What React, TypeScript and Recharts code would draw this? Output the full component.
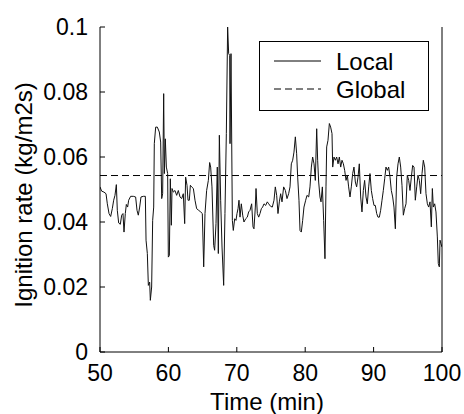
import { LineChart, Line, XAxis, YAxis, ReferenceLine, Legend } from 'recharts';

const FONT = '"Liberation Sans", Arial, sans-serif';

const TIME = [
  50.0, 50.24, 50.58, 50.88, 51.07, 51.32, 51.56, 51.8, 52.0, 52.19, 52.39, 52.53, 52.73, 52.97, 53.17, 53.36,
  53.51, 53.7, 53.85, 54.04, 54.19, 54.48, 54.87, 55.21, 55.41, 55.6, 55.8, 55.99, 56.34, 56.63, 56.73, 56.92,
  57.07, 57.26, 57.36, 57.55, 57.7, 57.85, 57.94, 58.14, 58.38, 58.67, 58.87, 59.02, 59.16, 59.31, 59.41, 59.55,
  59.7, 59.89, 59.99, 60.14, 60.28, 60.43, 60.53, 60.72, 60.96, 61.21, 61.45, 61.7, 61.94, 62.18, 62.38, 62.52,
  62.72, 62.87, 63.06, 63.21, 63.4, 63.65, 63.89, 64.13, 64.42, 64.72, 64.96, 65.16, 65.35, 65.59, 65.84, 66.03,
  66.18, 66.37, 66.62, 66.76, 66.96, 67.15, 67.3, 67.45, 67.64, 67.84, 68.08, 68.27, 68.47, 68.66, 68.81, 68.96,
  69.01, 69.15, 69.35, 69.49, 69.69, 69.88, 70.03, 70.18, 70.32, 70.47, 70.66, 70.86, 71.05, 71.3, 71.54, 71.73,
  71.93, 72.17, 72.37, 72.51, 72.71, 72.81, 73.0, 73.2, 73.39, 73.59, 73.78, 73.98, 74.22, 74.46, 74.66, 74.95,
  75.19, 75.44, 75.63, 75.83, 76.02, 76.22, 76.41, 76.61, 76.85, 77.1, 77.34, 77.58, 77.78, 77.97, 78.17, 78.36,
  78.56, 78.75, 78.9, 79.09, 79.24, 79.43, 79.63, 79.82, 80.07, 80.26, 80.51, 80.7, 80.9, 81.09, 81.29, 81.48,
  81.68, 81.82, 81.97, 82.16, 82.31, 82.51, 82.7, 82.89, 83.04, 83.14, 83.33, 83.53, 83.72, 83.92, 84.02, 84.21,
  84.41, 84.6, 84.8, 84.99, 85.19, 85.38, 85.58, 85.77, 85.97, 86.16, 86.35, 86.55, 86.74, 86.94, 87.13, 87.33,
  87.52, 87.72, 87.91, 88.11, 88.3, 88.5, 88.69, 88.89, 89.08, 89.28, 89.47, 89.67, 89.86, 90.06, 90.25, 90.45,
  90.64, 90.84, 91.03, 91.23, 91.42, 91.62, 91.81, 92.01, 92.2, 92.4, 92.59, 92.79, 92.98, 93.18, 93.37, 93.57,
  93.76, 93.96, 94.15, 94.35, 94.54, 94.74, 94.93, 95.13, 95.32, 95.52, 95.71, 95.91, 96.1, 96.3, 96.49, 96.69,
  96.88, 97.08, 97.27, 97.47, 97.66, 97.86, 98.05, 98.25, 98.44, 98.59, 98.73, 98.93, 99.12, 99.32, 99.46, 99.61,
  99.71, 99.85, 100.0,
];

const LOCAL_RATE = [
  0.0508, 0.0495, 0.0492, 0.0487, 0.0456, 0.0426, 0.0417, 0.0441, 0.0467, 0.0482, 0.0515, 0.0436, 0.0397, 0.0393, 0.0421, 0.0426,
  0.0369, 0.0426, 0.0454, 0.0446, 0.0467, 0.0479, 0.0479, 0.0477, 0.0436, 0.0421, 0.0446, 0.0477, 0.0479, 0.0479, 0.0344, 0.0303,
  0.0205, 0.0215, 0.0159, 0.02, 0.0405, 0.0446, 0.0641, 0.0692, 0.0692, 0.0677, 0.0646, 0.0472, 0.0487, 0.0795, 0.0549, 0.0656,
  0.0569, 0.0549, 0.0292, 0.0297, 0.0533, 0.039, 0.0503, 0.0492, 0.0497, 0.0482, 0.0497, 0.0477, 0.0472, 0.0487, 0.0395, 0.0538,
  0.0513, 0.0467, 0.0467, 0.0513, 0.0508, 0.0503, 0.0467, 0.0441, 0.0436, 0.0431, 0.0426, 0.0262, 0.0426, 0.0497, 0.0528, 0.0583,
  0.0569, 0.0508, 0.0328, 0.0313, 0.0395, 0.0569, 0.0303, 0.0667, 0.0467, 0.0323, 0.0205, 0.0426, 0.0672, 0.1, 0.0918, 0.0913,
  0.0641, 0.0918, 0.0405, 0.0374, 0.041, 0.0405, 0.0426, 0.0441, 0.0467, 0.0415, 0.0456, 0.0421, 0.04, 0.041, 0.0415, 0.0431,
  0.0436, 0.0456, 0.0385, 0.0379, 0.0446, 0.0503, 0.0426, 0.0415, 0.0426, 0.0441, 0.0446, 0.0456, 0.0451, 0.0462, 0.0456, 0.0448,
  0.0446, 0.0467, 0.0508, 0.0482, 0.0426, 0.0462, 0.0487, 0.0462, 0.0508, 0.0497, 0.0472, 0.0487, 0.0508, 0.0579, 0.059, 0.0615,
  0.0662, 0.061, 0.0538, 0.0467, 0.0374, 0.0369, 0.0405, 0.0446, 0.0467, 0.0482, 0.0477, 0.0508, 0.0569, 0.06, 0.0579, 0.0528,
  0.0687, 0.059, 0.0523, 0.0477, 0.0462, 0.0508, 0.0405, 0.0287, 0.0508, 0.0631, 0.0651, 0.0703, 0.0692, 0.0672, 0.0569, 0.06,
  0.059, 0.06, 0.0579, 0.06, 0.0569, 0.059, 0.0579, 0.0559, 0.0528, 0.0544, 0.0508, 0.0477, 0.0508, 0.0549, 0.0569, 0.0523,
  0.0508, 0.0538, 0.0579, 0.0477, 0.0431, 0.0497, 0.0528, 0.0477, 0.0456, 0.0508, 0.0549, 0.0497, 0.0472, 0.0451, 0.0451, 0.0426,
  0.0415, 0.0415, 0.0436, 0.0467, 0.0497, 0.0533, 0.0569, 0.0559, 0.0569, 0.0538, 0.0497, 0.0477, 0.0446, 0.0379, 0.0538, 0.0579,
  0.06, 0.0569, 0.0513, 0.0421, 0.0441, 0.0456, 0.0544, 0.0528, 0.0497, 0.0538, 0.0574, 0.0569, 0.0467, 0.0508, 0.0544, 0.0528,
  0.0487, 0.0549, 0.059, 0.0569, 0.0487, 0.0456, 0.0446, 0.0462, 0.0385, 0.0503, 0.0446, 0.0456, 0.0431, 0.0354, 0.0272, 0.0262,
  0.0344, 0.0333, 0.0323,
];

const GLOBAL_RATE = 0.0543;

const X_TICKS = [50, 60, 70, 80, 90, 100];
const Y_TICKS = [0, 0.02, 0.04, 0.06, 0.08, 0.1];

const LEGEND_ITEMS = [
  { name: 'Local', dash: undefined },
  { name: 'Global', dash: '7 4' },
];

const TICK_LEN = 5;
const TICK_FONT = 23;
const TITLE_FONT = 24;

// matlab style ticks: pointing into the plot box
const LeftTick = (props: any) => {
  const { x, y, payload } = props;
  return (
    <g>
      <line x1={x + 12} x2={x + 12 + TICK_LEN} y1={y} y2={y} stroke="#000" />
      <text x={x} y={y} dy="0.36em" textAnchor="end" fontSize={TICK_FONT} fontFamily={FONT} fill="#000">
        {String(payload.value)}
      </text>
    </g>
  );
};

const RightTick = (props: any) => {
  const { x, y } = props;
  return <line x1={x - TICK_LEN} x2={x} y1={y} y2={y} stroke="#000" />;
};

const BottomTick = (props: any) => {
  const { x, y, payload } = props;
  return (
    <g>
      <line x1={x} x2={x} y1={y - 13} y2={y - 13 - TICK_LEN} stroke="#000" />
      <text x={x} y={y} dy="0.71em" textAnchor="middle" fontSize={TICK_FONT} fontFamily={FONT} fill="#000">
        {String(payload.value)}
      </text>
    </g>
  );
};

const TopTick = (props: any) => {
  const { x, y } = props;
  return <line x1={x} x2={x} y1={y} y2={y + TICK_LEN} stroke="#000" />;
};

const LegendBox = () => (
  <svg width={170} height={70} style={{ display: 'block' }}>
    <rect x={0.5} y={0.5} width={169} height={69} fill="#fff" stroke="#000" />
    {LEGEND_ITEMS.map((item, i) => (
      <g key={item.name}>
        <line x1={15} x2={62} y1={20 + i * 28} y2={20 + i * 28} stroke="#000" strokeDasharray={item.dash} />
        <text x={77} y={20 + i * 28} dy="0.36em" fontSize={24} fontFamily={FONT} fill="#000">
          {item.name}
        </text>
      </g>
    ))}
  </svg>
);

export default function App() {
  const data = TIME.map((t, i) => ({ t, local: LOCAL_RATE[i] }));

  return (
    <div style={{ position: 'absolute', left: 0, top: 0 }}>
      <LineChart width={464} height={414} data={data} margin={{ top: 27, right: 0, bottom: 0, left: 0 }} style={{ fontFamily: FONT }}>
        <XAxis
          dataKey="t"
          type="number"
          domain={[50, 100]}
          ticks={X_TICKS}
          allowDataOverflow
          height={62}
          tickSize={0}
          tickMargin={13}
          tickLine={false}
          axisLine={{ stroke: '#000' }}
          tick={<BottomTick />}
          label={() => (
            <text x={267} y={410} textAnchor="middle" fontSize={TITLE_FONT} fontFamily={FONT} fill="#000">
              Time (min)
            </text>
          )}
        />
        <XAxis
          xAxisId="top"
          dataKey="t"
          type="number"
          orientation="top"
          domain={[50, 100]}
          ticks={X_TICKS}
          height={0}
          tickSize={0}
          tickMargin={0}
          tickLine={false}
          axisLine={{ stroke: '#000' }}
          tick={<TopTick />}
        />
        <YAxis
          type="number"
          domain={[0, 0.1]}
          ticks={Y_TICKS}
          allowDataOverflow
          width={100}
          tickSize={0}
          tickMargin={12}
          tickLine={false}
          axisLine={{ stroke: '#000' }}
          tick={<LeftTick />}
          label={() => (
            <text
              x={23}
              y={195}
              transform="rotate(-90, 23, 195)"
              textAnchor="middle"
              dy="0.36em"
              fontSize={TITLE_FONT}
              fontFamily={FONT}
              fill="#000"
            >
              Ignition rate (kg/m2s)
            </text>
          )}
        />
        <YAxis
          yAxisId="right"
          orientation="right"
          type="number"
          domain={[0, 0.1]}
          ticks={Y_TICKS}
          width={22}
          tickSize={0}
          tickMargin={0}
          tickLine={false}
          axisLine={{ stroke: '#000' }}
          tick={<RightTick />}
        />
        <ReferenceLine y={GLOBAL_RATE} stroke="#000" strokeDasharray="7 4" />
        <Line
          type="linear"
          dataKey="local"
          stroke="#111"
          strokeWidth={1}
          dot={false}
          isAnimationActive={false}
        />
        <Legend
          verticalAlign="middle"
          align="center"
          layout="horizontal"
          content={() => <LegendBox />}
          wrapperStyle={{ left: 259, top: 41, width: 170, height: 70 }}
        />
      </LineChart>
    </div>
  );
}
